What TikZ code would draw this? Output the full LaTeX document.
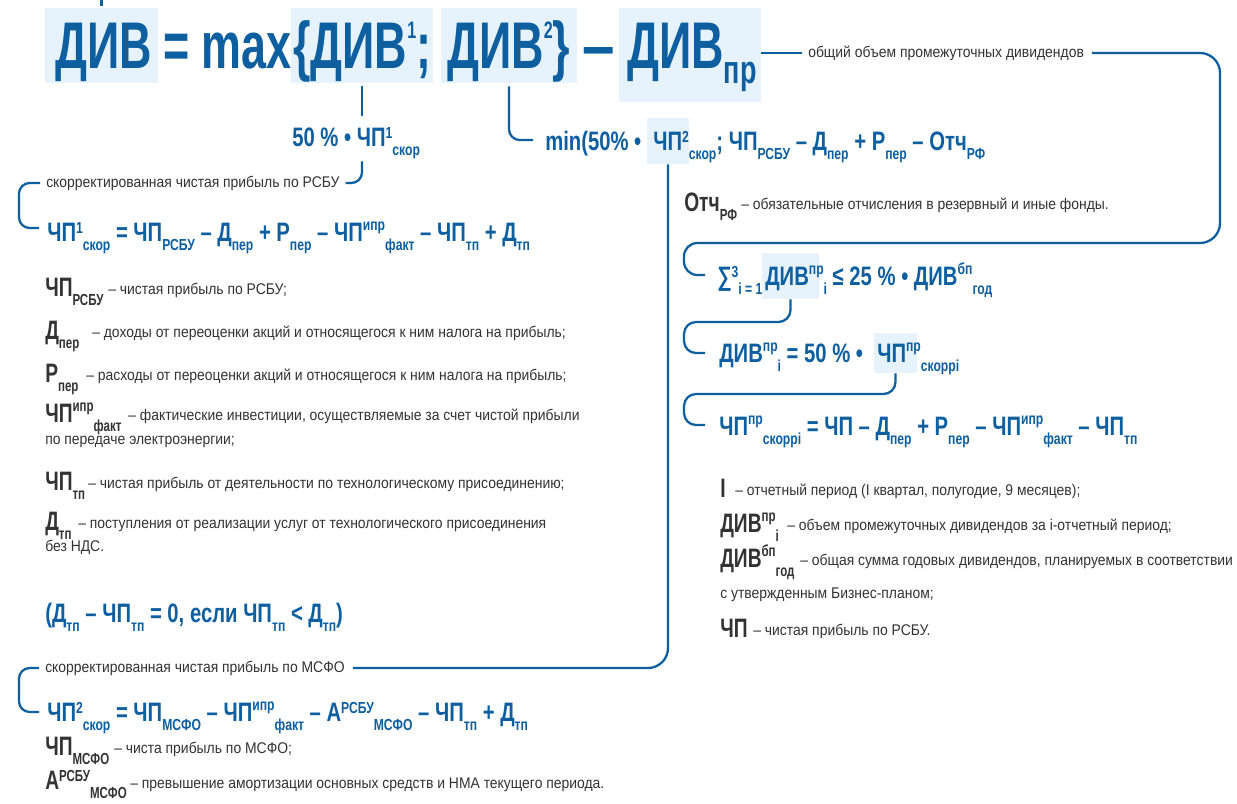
\documentclass[tikz,border=0pt]{standalone}
\usepackage{fontspec}
\usepackage{graphicx}
\setmainfont{Liberation Sans}
\newfontfamily\tfam[FakeStretch=0.68]{Liberation Sans}
\newfontfamily\ffam[FakeStretch=0.76]{Liberation Sans}
\newfontfamily\sfam[FakeStretch=0.72]{Liberation Sans}
\newfontfamily\dfam[FakeStretch=0.9]{Liberation Sans}
\usetikzlibrary{calc,fit}
\definecolor{dblue}{HTML}{0D5FA0}
\definecolor{hl}{HTML}{E6F3FC}
\definecolor{dgrey}{HTML}{333333}
\newcommand\ShB[3]{\raisebox{#1em}{\scalebox{#2}{#3}}}
\newcommand\Dn[1]{\ShB{-0.36}{0.6}{#1}}
\newcommand\Up[1]{\ShB{0.29}{0.6}{#1}}
\newcommand\Upl[1]{\ShB{0.40}{0.6}{#1}}
\newcommand\TUp[1]{\ShB{0.45}{0.36}{#1}}
\newcommand\TDn[1]{\ShB{-0.24}{0.6}{#1}}
\tikzset{
  hlbox/.style={fill=hl, draw=none, inner sep=0pt},
  ttl/.style={anchor=base west, inner sep=0pt, text=dblue, font=\tfam\bfseries\fontsize{49.5}{50}\selectfont},
  frm/.style={anchor=base west, inner sep=0pt, text=dblue, font=\ffam\bfseries\fontsize{20}{22}\selectfont},
  sym/.style={anchor=base west, inner sep=0pt, text=dgrey, font=\sfam\bfseries\fontsize{20}{22}\selectfont},
  dsc/.style={anchor=base west, inner sep=0pt, text=dgrey, font=\dfam\fontsize{11.6}{13}\selectfont},
  lbl/.style={anchor=west, inner sep=0pt, text=dgrey, font=\dfam\fontsize{11.6}{13}\selectfont},
  conn/.style={draw=dblue, line width=1.7pt},
}
\begin{document}
\begin{tikzpicture}[x=0.75pt,y=-0.75pt]
\fill[white] (0,0) rectangle (1237,803);
\useasboundingbox (0,0) rectangle (1237,803);
% highlight boxes
\node[hlbox, fit={(45,8) (158,83)}] (B1) {};
\node[hlbox, fit={(291,8) (433,83)}] (B2) {};
\node[hlbox, fit={(441,8) (577,83)}] (B3) {};
\node[hlbox, fit={(619,8) (761,102)}] (B4) {};
\node[hlbox, fit={(647,118) (689,164)}] (B5) {};
\node[hlbox, fit={(762,253) (819,299)}] (B6) {};
\node[hlbox, fit={(874,333) (917,373)}] (B7) {};
% title
\node[ttl] (T1) at (55,68) {ДИВ};
\node[ttl] (T2) at (163,68) {= max};
\node[ttl] (T3) at (293,68) {\{ДИВ\TUp{1};};
\node[ttl] (T4) at (447,68) {ДИВ\TUp{2}\}};
\node[ttl] (T5) at (582,68) {\scalebox{1.3}[1]{–}};
\node[ttl] (T6) at (627,68) {ДИВ\TDn{пр}};
% formulas
\node[frm] (F50) at (292,146) {50 \% • ЧП\Up{1}\Dn{скор}};
\node[frm] (Fmin1) at (545,150) {min(50\% •};
\node[frm] (Fmin2) at (653,150) {ЧП\Up{2}\Dn{скор}; ЧП\Dn{РСБУ} – Д\Dn{пер} + Р\Dn{пер} – Отч\Dn{РФ}};
\node[lbl] (L1) at (46,183) {скорректированная чистая прибыль по РСБУ};
\node[frm] (F1) at (47,241) {ЧП\Up{1}\Dn{скор} = ЧП\Dn{РСБУ} – Д\Dn{пер} + Р\Dn{пер} – ЧП\Upl{ипр}\Dn{факт} – ЧП\Dn{тп} + Д\Dn{тп}};
\node[lbl] (L2) at (808,53) {общий объем промежуточных дивидендов};
\node[sym] (S0) at (684,211) {Отч\Dn{РФ}};
\node[dsc] (D0) at (741,209) {– обязательные отчисления в резервный и иные фонды.};
% right formulas
\node[frm] (FS1) at (717,285) {∑\Up{3}\Dn{i = 1}};
\node[frm] (FS2) at (765,285) {ДИВ\Upl{пр}\Dn{i} ≤ 25 \% • ДИВ\Upl{бп}\Dn{год}};
\node[frm] (FR1) at (719,362) {ДИВ\Upl{пр}\Dn{i} = 50 \% •};
\node[frm] (FR2) at (877,362) {ЧП\Upl{пр}\Dn{скоррi}};
\node[frm] (F5) at (719,435) {ЧП\Upl{пр}\Dn{скоррi} = ЧП – Д\Dn{пер} + Р\Dn{пер} – ЧП\Upl{ипр}\Dn{факт} – ЧП\Dn{тп}};
% right descriptions
\node[sym] (S1) at (720,497) {I};
\node[dsc] (D1) at (735,495) {– отчетный период (I квартал, полугодие, 9 месяцев);};
\node[sym] (S2) at (720,532) {ДИВ\Upl{пр}\Dn{i}};
\node[dsc] (D2) at (787,530) {– объем промежуточных дивидендов за i-отчетный период;};
\node[sym] (S3) at (720,567) {ДИВ\Upl{бп}\Dn{год}};
\node[dsc] (D3) at (800,565) {– общая сумма годовых дивидендов, планируемых в соответствии};
\node[dsc] (D3b) at (720,598) {с утвержденным Бизнес-планом;};
\node[sym] (S4) at (720,637) {ЧП};
\node[dsc] (D4) at (753,635) {– чистая прибыль по РСБУ.};
% left descriptions
\node[sym] (S5) at (45,296) {ЧП\Dn{РСБУ}};
\node[dsc] (D5) at (108,294) {– чистая прибыль по РСБУ;};
\node[sym] (S6) at (45,339) {Д\Dn{пер}};
\node[dsc] (D6) at (92,337) {– доходы от переоценки акций и относящегося к ним налога на прибыль;};
\node[sym] (S7) at (45,382) {Р\Dn{пер}};
\node[dsc] (D7) at (86,380) {– расходы от переоценки акций и относящегося к ним налога на прибыль;};
\node[sym] (S8) at (45,422) {ЧП\Upl{ипр}\Dn{факт}};
\node[dsc] (D8) at (128,420) {– фактические инвестиции, осуществляемые за счет чистой прибыли};
\node[dsc] (D8b) at (45,444) {по передаче электроэнергии;};
\node[sym] (S9) at (45,490) {ЧП\Dn{тп}};
\node[dsc] (D9) at (88,488) {– чистая прибыль от деятельности по технологическому присоединению;};
\node[sym] (S10) at (45,530) {Д\Dn{тп}};
\node[dsc] (D10) at (78,528) {– поступления от реализации услуг от технологического присоединения};
\node[dsc] (D10b) at (45,551) {без НДС.};
\node[frm] (F2) at (45,622) {(Д\Dn{тп} – ЧП\Dn{тп} = 0, если ЧП\Dn{тп} < Д\Dn{тп})};
\node[lbl] (L3) at (45,668) {скорректированная чистая прибыль по МСФО};
\node[frm] (F6) at (47,721) {ЧП\Up{2}\Dn{скор} = ЧП\Dn{МСФО} – ЧП\Upl{ипр}\Dn{факт} – А\Up{РСБУ}\Dn{МСФО} – ЧП\Dn{тп} + Д\Dn{тп}};
\node[sym] (S11) at (45,755) {ЧП\Dn{МСФО}};
\node[dsc] (D11) at (114,753) {– чиста прибыль по МСФО;};
\node[sym] (S12) at (45,789) {А\Up{РСБУ}\Dn{МСФО}};
\node[dsc] (D12) at (130,788) {– превышение амортизации основных средств и НМА текущего периода.};
% connectors
\draw[conn] ($(B1.north)+(0,-2)$) -- ($(B1.north)+(0,-12)$);
\draw[conn] ($(B2.south)+(0,3)$) -- ($(B2.south)+(0,33)$);
\draw[conn, rounded corners=8] ($(B2.south)+(0,78)$) |- ($(L1.east)+(6,0)$);
\draw[conn, rounded corners=8] ($(L1.west)+(-6,0)$) -| ($(L1.west)+(-27,20)$) |- ($(F1.base west)+(-8,-13)$);
\draw[conn, rounded corners=8] ($(B3.south)+(0,3)$) |- ($(Fmin1.base west)+(-12,-10)$);
\draw[conn] (B4.east |- L2.west) -- ($(L2.west)+(-6,0)$);
\draw[conn, rounded corners=15] ($(L2.east)+(8,0)$) -| (1220,243) [rounded corners=10] -- (684,243) |- ($(FS1.base west)+(-12,-10)$);
\draw[conn, rounded corners=9] (B6.south) |- (684,322) |- ($(FR1.base west)+(-14,-9)$);
\draw[conn, rounded corners=9] (B7.south) |- (684,394) |- ($(F5.base west)+(-14,-10)$);
\draw[conn, rounded corners=15] (B5.south) |- ($(L3.east)+(8,0)$);
\draw[conn, rounded corners=8] ($(L3.west)+(-6,0)$) -| ($(L3.west)+(-26,20)$) |- ($(F6.base west)+(-8,-9)$);
\end{tikzpicture}
\end{document}
